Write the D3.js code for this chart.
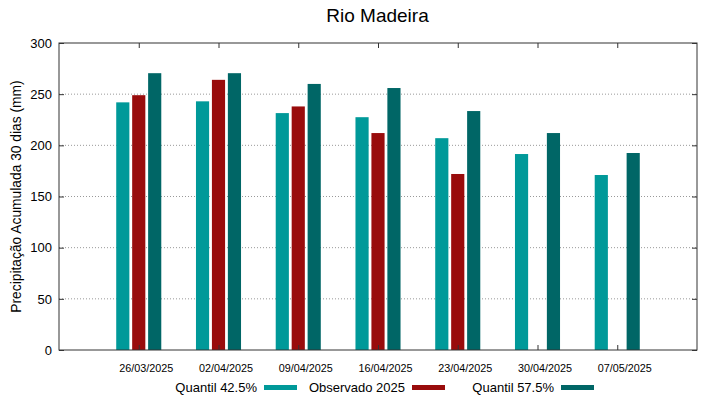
<!DOCTYPE html>
<html>
<head>
<meta charset="utf-8">
<script src="https://cdn.jsdelivr.net/npm/d3@7"></script>
<style>
body { margin: 0; background: #fff; }
svg { font-family: "Liberation Sans", Arial, sans-serif; }
</style>
</head>
<body>
<svg width="719" height="399"></svg>
<script>
const width = 719;
const height = 399;

const dates = ["26/03/2025", "02/04/2025", "09/04/2025", "16/04/2025", "23/04/2025", "30/04/2025", "07/05/2025"];
const q425 = [242, 243, 231.5, 227.5, 207, 191.5, 171];
const obs2025 = [249, 264, 238, 212, 172, null, null];
const q575 = [270.5, 270.5, 260, 256, 233.5, 212, 192.5];
const yTicks = [0, 50, 100, 150, 200, 250, 300];

const series = [
    { name: "Quantil 42.5%", values: q425, color: "#009999", offset: -0.2 },
    { name: "Observado 2025", values: obs2025, color: "#990c0c", offset: 0 },
    { name: "Quantil 57.5%", values: q575, color: "#006666", offset: 0.2 }
];

const plotL = 59, plotR = 697, plotT = 43, plotB = 350;

const x = d3.scaleLinear().domain([-1, 7]).range([plotL, plotR]);
const y = d3.scaleLinear().domain([0, 300]).range([plotB, plotT]);
const barW = x(0.165) - x(0);

const svg = d3.select("svg");

// title
svg.append("text")
    .attr("x", 377.5).attr("y", 22)
    .attr("text-anchor", "middle")
    .attr("font-size", 19)
    .text("Rio Madeira");

// grid lines
svg.append("g")
    .selectAll("line")
    .data(yTicks.filter(d => d > 0 && d < 300))
    .join("line")
    .attr("x1", plotL).attr("x2", plotR)
    .attr("y1", d => y(d)).attr("y2", d => y(d))
    .attr("stroke", "#999")
    .attr("stroke-width", 1)
    .attr("stroke-dasharray", "1,2");

// bars
series.forEach(s => {
    svg.append("g")
        .selectAll("rect")
        .data(s.values.map((v, i) => ({ v, i })).filter(d => d.v !== null))
        .join("rect")
        .attr("x", d => x(d.i + s.offset) - barW / 2)
        .attr("y", d => y(d.v))
        .attr("width", barW)
        .attr("height", d => y(0) - y(d.v))
        .attr("fill", s.color);
});

// frame
svg.append("rect")
    .attr("x", plotL).attr("y", plotT)
    .attr("width", plotR - plotL).attr("height", plotB - plotT)
    .attr("fill", "none")
    .attr("stroke", "#333")
    .attr("stroke-width", 1);

const fontFam = "Liberation Sans, Arial, sans-serif";

// y axis ticks and labels
svg.append("g")
    .attr("transform", `translate(${plotL},0)`)
    .call(d3.axisLeft(y).tickValues(yTicks).tickSize(-5).tickPadding(7))
    .call(g => g.select(".domain").remove())
    .call(g => g.selectAll("text").attr("font-size", 13).attr("fill", "#000").attr("font-family", fontFam))
    .call(g => g.selectAll("line").attr("stroke", "#333"));

svg.append("g")
    .attr("transform", `translate(${plotR},0)`)
    .call(d3.axisRight(y).tickValues(yTicks).tickSize(-5).tickFormat(""))
    .call(g => g.select(".domain").remove())
    .call(g => g.selectAll("line").attr("stroke", "#333"));

// x axis ticks and labels
svg.append("g")
    .attr("transform", `translate(0,${plotB})`)
    .call(d3.axisBottom(x).tickValues(d3.range(dates.length)).tickSize(-5).tickPadding(14.3)
        .tickFormat(i => dates[i]))
    .call(g => g.select(".domain").remove())
    .call(g => g.selectAll("text").attr("font-size", 10.8).attr("dx", 7).attr("fill", "#000").attr("font-family", fontFam))
    .call(g => g.selectAll("line").attr("stroke", "#333"));

svg.append("g")
    .attr("transform", `translate(0,${plotT})`)
    .call(d3.axisTop(x).tickValues(d3.range(dates.length)).tickSize(-5).tickFormat(""))
    .call(g => g.select(".domain").remove())
    .call(g => g.selectAll("line").attr("stroke", "#333"));

// y label
svg.append("text")
    .attr("transform", `translate(20.5,${(plotT + plotB) / 2}) rotate(-90)`)
    .attr("text-anchor", "middle")
    .attr("font-size", 13.8)
    .text("Precipitação Acumulada 30 dias (mm)");

// legend
const legendX = [257, 405, 554];
const legend = svg.append("g");
series.forEach((s, i) => {
    legend.append("text")
        .attr("x", legendX[i]).attr("y", 392)
        .attr("text-anchor", "end")
        .attr("font-size", 13)
        .text(s.name);
    legend.append("rect")
        .attr("x", legendX[i] + 7).attr("y", 385)
        .attr("width", 33).attr("height", 5)
        .attr("fill", s.color);
});
</script>
</body>
</html>
